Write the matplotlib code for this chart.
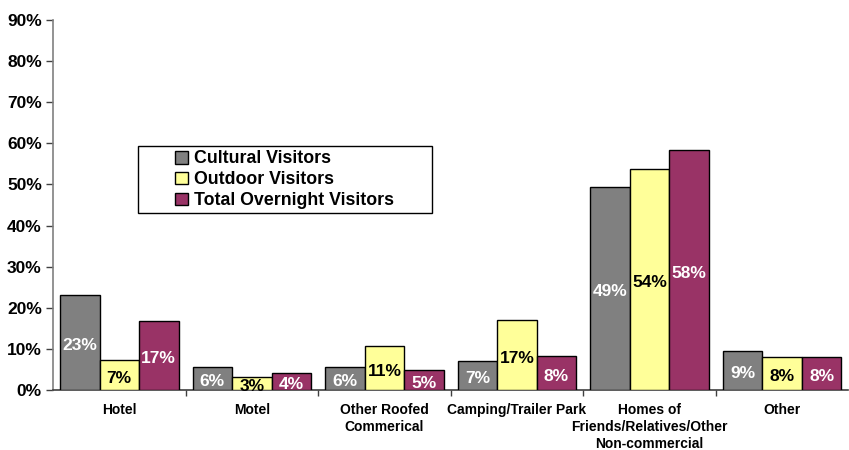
import numpy as np
import matplotlib
matplotlib.use('Agg')
import matplotlib.pyplot as plt
from matplotlib.patches import Rectangle
from matplotlib.ticker import FuncFormatter, FixedLocator

plt.rcParams['font.family'] = ['Liberation Sans', 'DejaVu Sans']
plt.rcParams['font.weight'] = 'bold'

categories = ["Hotel", "Motel", "Other Roofed\nCommerical", "Camping/Trailer Park",
              "Homes of\nFriends/Relatives/Other\nNon-commercial", "Other"]
series = ["Cultural Visitors", "Outdoor Visitors", "Total Overnight Visitors"]
cultural = [23.2, 5.5, 5.5, 7.1, 49.3, 9.4]
outdoor = [7.4, 3.2, 10.7, 17.0, 53.7, 8.0]
total = [16.7, 4.1, 4.9, 8.3, 58.4, 8.0]

colors = ["#808080", "#FFFF99", "#993366"]
text_colors = ["white", "black", "white"]

fig = plt.figure(figsize=(8.49, 4.5), dpi=100)
ax = fig.add_axes([0.0624, 0.1333, 0.937, 0.8223])

x = np.arange(len(categories))
width = 0.298
for i, vals in enumerate([cultural, outdoor, total]):
  pos = x + (i - 1) * width
  ax.bar(pos, vals, width, color=colors[i], edgecolor="black", linewidth=1.0,
         label=series[i], zorder=3)
  for p, v in zip(pos, vals):
    ax.text(p, v / 2.0 - 0.8, "%.0f%%" % v, ha="center", va="center",
            color=text_colors[i], fontsize=12.5, fontweight="bold", zorder=4)

ax.set_xlim(-0.5, len(categories) - 0.5)
ax.set_ylim(0, 90)
ax.set_yticks(np.arange(0, 91, 10))
ax.yaxis.set_major_formatter(FuncFormatter(lambda v, p: "%d%%" % v))
ax.tick_params(axis="y", labelsize=12.5, length=5, width=1, color="#404040", pad=3)

ax.set_xticks(x)
ax.set_xticklabels(categories, fontsize=10, fontweight="bold", linespacing=1.3)
ax.tick_params(axis="x", length=0, pad=9)
ax.xaxis.set_minor_locator(FixedLocator(np.arange(0.5, len(categories) - 1, 1.0)))
ax.tick_params(axis="x", which="minor", length=4, width=1, color="#404040")

for s in ["top", "right"]:
  ax.spines[s].set_visible(False)
ax.spines["left"].set_color("#808080")
ax.spines["left"].set_linewidth(1.2)
ax.spines["bottom"].set_color("#404040")
ax.spines["bottom"].set_linewidth(1.2)

# legend box drawn separately so the entries sit with a wide left margin
ax.add_patch(Rectangle((0.107, 0.478), 0.370, 0.181, transform=ax.transAxes,
                       facecolor="white", edgecolor="black", linewidth=1.0, zorder=5))
leg = ax.legend(loc="upper left", bbox_to_anchor=(0.147, 0.662), fontsize=12.8,
                frameon=False, handlelength=0.72, handleheight=0.72, handletextpad=0.35,
                labelspacing=0.22, borderpad=0.3, borderaxespad=0)
leg.set_zorder(6)
for t in leg.get_texts():
  t.set_fontweight("bold")

fig.savefig("out.png", dpi=100)
